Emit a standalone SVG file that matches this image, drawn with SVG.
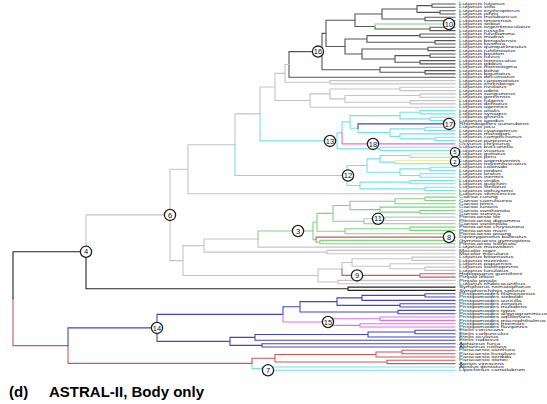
<svg xmlns="http://www.w3.org/2000/svg" width="547" height="404" viewBox="0 0 547 404">
<style>
.br{fill:none;stroke-width:1.1;stroke-linecap:square}
.dk{stroke:#555}.gy{stroke:#c4c4c4}.cy{stroke:#74e2e8}.gn{stroke:#7fd47f}.bl{stroke:#4646b6}.rd{stroke:#c85a5a}.mg{stroke:#e070e0}.ye{stroke:#efed9e}.bk{stroke:#222}
.nd circle{fill:#fff;stroke:#222;stroke-width:1.3}
.nd text{font-family:"Liberation Sans",Arial,sans-serif;font-size:7.5px;text-anchor:middle;fill:#111}
.nd.sm text{font-size:6px}
.tl{font-family:"Liberation Sans",Arial,sans-serif;font-size:3.4px;fill:#222}
.ttl{font-family:"Liberation Sans",Arial,sans-serif;font-size:15px;font-weight:bold;fill:#000}
</style>
<rect width="547" height="404" fill="#fff"/>
<g id="connectors">
<path class="br dk" d="M455 4H432V7.3H455M455 10.7H440V14H455M432 5.65H417V12.35H440M455 17.3H425V20.7H455M417 9H382V19H425M455 27.3H430V30.6H455M375 26.5V28.95H430M382 14H355V26.5H375M455 34H420V37.3H455M455 40.6H435V44H455M420 35.65H367V42.3H435M455 47.3H428V50.6H455M455 54H430V57.3H455M455 60.6H420V63.9H455M430 55.65H395V62.25H420M428 48.95H362V58.95H395M367 38.95H345V53.95H362M355 20.25H326V46.45H345M455 70.6H425V73.9H455M455 67.3H380V72.25H425M326 33.35H322V69.8H380M322 51.6H289V77.3H455"/>
<path class="br gn" d="M455 24H375V26.5"/>
<path class="br gy" d="M455 80.6H330V83.9H455M289 64.45H285V82.25H330M455 87.3H400V90.6H455M455 93.9H420V97.2H455M455 100.6H410V103.9H455M420 95.55H345V102.25H410M400 88.95H330V98.9H345M330 93.9H310V107.2H455M285 73.35H275V100.55H310M275 86.95H260V113.9M260 113.9H235V144.7M235 144.7H188V193.8H455M188 169.25H170V260.6H183M204 245.6H183V275.5H318M258 239.05H204V252.1H327M455 250.4H327V253.8H455M258 239.05V247.1H455M342 269H318V282.05H338M455 280.4H338V283.7H455M352 262.5H342V269M412 258.75H352V266.2H390M455 257.1H412V260.4H455M455 263.7H390V268.75H425M455 267.1H425V270.4H455M385 218.8H364V221.3M455 217.1H385V220.5H455M170 214.9H86V251.8"/>
<path class="br cy" d="M260 113.9V140.9H337M235 144.7V175.5H347M342 132.9H337V148.85H380M455 147.2H380V150.5H455M350 121.9H342V132.9M400 115.6H350V128.25H358M420 112.25H400V118.9H430M455 110.6H420V113.9H455M455 117.2H430V120.6H455M358 128.25V132.6H390M425 128.85H390V136.4H400M455 127.2H425V130.5H455M455 133.9H400V138.85H435M455 137.2H435V140.5H455M367 165.5H347V185.5H360M380 158.85H367V172.2H400M410 155.55H380V162.15H395M410 155.55V157.2H455M395 162.15V163.8H455M430 168.85H400V175.5H420M455 167.2H430V170.5H455M455 173.8H420V177.2H455M410 182.15H360V188.85H425M455 180.5H410V183.8H455M455 187.2H425V190.5H455M252 363.4V368.65H262M455 367H262V370.3H455"/>
<path class="br ye" d="M455 153.9H410V155.55M455 160.5H395V162.15"/>
<path class="br gn" d="M313 231H258V239.05M317 222.3H313V239.6H316M316 239.6V242.1H320M455 240.4H320V243.8H455M333 213.4H317V231.3H345M410 228.75H345V233.8H455M455 227.1H410V230.4H455M350 205.5H333V221.3H364M364 221.3V223.8H455M395 201.3H350V209.6H380M425 198.8H395V203.8H455M455 197.1H425V200.5H455M455 207.1H380V212.15H420M455 210.5H420V213.8H455"/>
<path class="br rd" d="M455 237.1H316V239.6M342 269V275.4H420M455 273.7H420V277.1H455M13 298.7V345.65H68M68 345.65V363.4H252M275 358.2H252V363.4M376 354.5H275V361.95H387M402 352H376V357H455M455 350.3H402V353.7H455M455 360.3H387V363.6H455"/>
<path class="br bk" d="M86 251.8V288.75H348M455 287.1H348V290.4H455M86 251.8H13V298.7"/>
<path class="br bl" d="M455 123.9H358V128.25M157 327.9H68V345.65M283 314.4H157V341.4H230M300 306.8H283V314.4M337 301.6H300V312.05H398M362 297.9H337V305.35H400M425 295.35H362V300.4H455M455 293.7H425V297H455M455 303.7H400V307H455M455 310.4H398V313.7H455M255 337.4H230V345.35H262M368 334.5H255V340.3H455M415 332H368V337H455M455 330.3H415V333.7H455M455 343.7H262V347H455"/>
<path class="br mg" d="M342 132.9V143.9H455M283 314.4V322H332M380 318.7H332V325.35H360M455 317H380V320.4H455M455 323.7H360V327H455"/>
</g>
<g id="n10" class="nd"><circle cx="449" cy="24" r="5.6"/><text x="449" y="26.6">10</text></g>
<g id="n16" class="nd"><circle cx="318" cy="51.6" r="5.6"/><text x="318" y="54.2">16</text></g>
<g id="n17" class="nd"><circle cx="449" cy="123.9" r="5.6"/><text x="449" y="126.5">17</text></g>
<g id="n13" class="nd"><circle cx="330" cy="140.9" r="5.6"/><text x="330" y="143.5">13</text></g>
<g id="n18" class="nd"><circle cx="373" cy="143.9" r="5.6"/><text x="373" y="146.5">18</text></g>
<g id="n5" class="nd sm"><circle cx="455" cy="152.3" r="4.6"/><text x="455" y="154.4">5</text></g>
<g id="n2" class="nd sm"><circle cx="455" cy="161.5" r="4.6"/><text x="455" y="163.6">2</text></g>
<g id="n12" class="nd"><circle cx="348" cy="175.5" r="5.6"/><text x="348" y="178.1">12</text></g>
<g id="n6" class="nd"><circle cx="170" cy="214.9" r="5.6"/><text x="170" y="217.5">6</text></g>
<g id="n11" class="nd"><circle cx="378" cy="218.8" r="5.6"/><text x="378" y="221.4">11</text></g>
<g id="n3" class="nd"><circle cx="298" cy="231" r="5.6"/><text x="298" y="233.6">3</text></g>
<g id="n8" class="nd"><circle cx="449" cy="237.1" r="5.6"/><text x="449" y="239.7">8</text></g>
<g id="n4" class="nd"><circle cx="86" cy="251.8" r="5.6"/><text x="86" y="254.4">4</text></g>
<g id="n9" class="nd"><circle cx="357" cy="275.4" r="5.6"/><text x="357" y="278">9</text></g>
<g id="n15" class="nd"><circle cx="328" cy="322" r="5.6"/><text x="328" y="324.6">15</text></g>
<g id="n14" class="nd"><circle cx="157" cy="327.9" r="5.6"/><text x="157" y="330.5">14</text></g>
<g id="n7" class="nd"><circle cx="268" cy="370.3" r="5.6"/><text x="268" y="372.9">7</text></g>
<g id="tips" transform="translate(459,1.2) scale(1.8,1)" class="tl">
<text y="4">Lutjanus lutjanus</text><text y="7.3">Lutjanus vitta</text><text y="10.7">Lutjanus erythropterus</text><text y="14">Lutjanus johnii</text><text y="17.3">Lutjanus malabaricus</text><text y="20.7">Lutjanus timorensis</text><text y="24">Lutjanus sebae</text><text y="27.3">Lutjanus argentimaculatus</text><text y="30.6">Lutjanus russellii</text><text y="34">Lutjanus fulviflamma</text>
<text y="37.3">Lutjanus madras</text><text y="40.6">Lutjanus bengalensis</text><text y="44">Lutjanus kasmira</text><text y="47.3">Lutjanus quinquelineatus</text><text y="50.6">Lutjanus rufolineatus</text><text y="54">Lutjanus boutton</text><text y="57.3">Lutjanus fulvus</text><text y="60.6">Lutjanus lemniscatus</text><text y="63.9">Lutjanus gibbus</text><text y="67.3">Lutjanus monostigma</text>
<text y="70.6">Lutjanus bohar</text><text y="73.9">Lutjanus biguttatus</text><text y="77.3">Lutjanus decussatus</text><text y="80.6">Lutjanus carponotatus</text><text y="83.9">Lutjanus ehrenbergii</text><text y="87.3">Lutjanus rivulatus</text><text y="90.6">Lutjanus adetii</text><text y="93.9">Lutjanus sanguineus</text><text y="97.2">Lutjanus goreensis</text><text y="100.6">Lutjanus fulgens</text>
<text y="103.9">Lutjanus dentatus</text><text y="107.2">Lutjanus agennes</text><text y="110.6">Lutjanus analis</text><text y="113.9">Lutjanus synagris</text><text y="117.2">Lutjanus griseus</text><text y="120.6">Lutjanus apodus</text><text y="123.9">Rhomboplites aurorubens</text><text y="127.2">Lutjanus jocu</text><text y="130.5">Lutjanus cyanopterus</text><text y="133.9">Lutjanus mahogoni</text>
<text y="137.2">Lutjanus campechanus</text><text y="140.5">Lutjanus purpureus</text><text y="143.9">Ocyurus chrysurus</text><text y="147.2">Lutjanus buccanella</text><text y="150.5">Lutjanus vivanus</text><text y="153.9">Lutjanus guttatus</text><text y="157.2">Lutjanus peru</text><text y="160.5">Lutjanus argentiventris</text><text y="163.8">Lutjanus novemfasciatus</text><text y="167.2">Lutjanus colorado</text>
<text y="170.5">Lutjanus jordani</text><text y="173.8">Lutjanus aratus</text><text y="177.2">Lutjanus inermis</text><text y="180.5">Lutjanus viridis</text><text y="183.8">Lutjanus guilcheri</text><text y="187.2">Lutjanus stellatus</text><text y="190.5">Lutjanus ophuysenii</text><text y="193.8">Lutjanus semicinctus</text><text y="197.1">Caesio cuning</text><text y="200.5">Caesio caerulaurea</text>
<text y="203.8">Caesio teres</text><text y="207.1">Caesio lunaris</text><text y="210.5">Caesio xanthonota</text><text y="213.8">Caesio suevica</text><text y="217.1">Pterocaesio tile</text><text y="220.5">Pterocaesio digramma</text><text y="223.8">Caesio varilineata</text><text y="227.1">Pterocaesio chrysozona</text><text y="230.4">Pterocaesio marri</text><text y="233.8">Pterocaesio pisang</text>
<text y="237.1">Dipterygonotus balteatus</text><text y="240.4">Gymnocaesio gymnoptera</text><text y="243.8">Pterocaesio trilineata</text><text y="247.1">Lutjanus maxweberi</text><text y="250.4">Macolor niger</text><text y="253.8">Macolor macularis</text><text y="257.1">Lutjanus bitaeniatus</text><text y="260.4">Lutjanus mizenkoi</text><text y="263.7">Lutjanus papuensis</text><text y="267.1">Lutjanus xanthopinnis</text>
<text y="270.4">Lutjanus lunulatus</text><text y="273.7">Hoplopagrus guentherii</text><text y="277.1">Pinjalo lewisi</text><text y="280.4">Pinjalo pinjalo</text><text y="283.7">Lutjanus endecacanthus</text><text y="287.1">Symphorus nematophorus</text><text y="290.4">Symphorichthys spilurus</text><text y="293.7">Pristipomoides filamentosus</text><text y="297">Pristipomoides sieboldii</text><text y="300.4">Pristipomoides auricilla</text>
<text y="303.7">Pristipomoides zonatus</text><text y="307">Pristipomoides multidens</text><text y="310.4">Pristipomoides typus</text><text y="313.7">Pristipomoides argyrogrammicus</text><text y="317">Pristipomoides aquilonaris</text><text y="320.4">Pristipomoides macrophthalmus</text><text y="323.7">Pristipomoides freemani</text><text y="327">Pristipomoides flavipinnis</text><text y="330.3">Etelis coruscans</text><text y="333.7">Etelis carbunculus</text>
<text y="337">Etelis oculatus</text><text y="340.3">Etelis radiosus</text><text y="343.7">Aphareus furca</text><text y="347">Aphareus rutilans</text><text y="350.3">Paracaesio xanthura</text><text y="353.7">Paracaesio kusakarii</text><text y="357">Paracaesio sordida</text><text y="360.3">Paracaesio stonei</text><text y="363.6">Aprion virescens</text><text y="367">Apsilus dentatus</text>
<text y="370.3">Lipocheilus carnolabrum</text>
</g>
<text class="ttl" x="9" y="397">(d)</text>
<text class="ttl" x="49" y="397">ASTRAL-II, Body only</text>
</svg>
